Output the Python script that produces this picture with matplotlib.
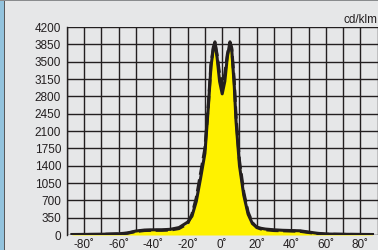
import matplotlib
matplotlib.use("Agg")
import matplotlib.pyplot as plt
from matplotlib.patches import Rectangle
import numpy as np

plt.rcParams['font.family'] = ['Liberation Sans', 'DejaVu Sans']

# Data
angles_a = [-87, -80, -70, -60, -55, -50, -45, -40, -35, -30, -25, -20, -17.5, -15, -12.5, -10, -8, -6.5, -5,
            -4.2, -3, -1.5, 0, 1.5, 3, 4.5, 5.5, 7, 8, 10, 12.5, 15, 17.5, 20, 22.5, 25, 30, 35, 40, 45,
            50, 55, 60, 70, 80, 87]
solid_vals = [10, 12, 15, 25, 40, 80, 100, 105, 105, 115, 150, 260, 380, 680, 1150, 1650, 2600, 3400, 3800,
              3900, 3600, 3100, 2850, 3100, 3600, 3900, 3750, 3000, 2300, 1400, 800, 420, 230, 160, 135, 120,
              105, 95, 90, 85, 60, 35, 20, 15, 12, 10]
dashed_vals = [8, 10, 12, 20, 35, 70, 90, 95, 95, 100, 130, 230, 420, 750, 1250, 1750, 2650, 3450, 3820,
               3880, 3650, 3250, 3000, 3250, 3650, 3880, 3780, 3100, 2400, 1500, 860, 460, 250, 150, 120, 105,
               90, 85, 80, 75, 50, 30, 16, 12, 10, 8]

x_ticks = [-80, -60, -40, -20, 0, 20, 40, 60, 80]
x_labels = ['-80˚', '-60˚', '-40˚', '-20˚', '0˚', '20˚', '40˚', '60˚', '80˚']
y_ticks = [0, 350, 700, 1050, 1400, 1750, 2100, 2450, 2800, 3150, 3500, 3850, 4200]
unit = 'cd/klm'

W, H = 378, 250
fig = plt.figure(figsize=(W / 100, H / 100), dpi=100)
fig.patch.set_facecolor('#e6e7e8')

# left blue strip and borders
fig.add_artist(Rectangle((0, 0), 4 / W, 1, transform=fig.transFigure, facecolor='#93c3dd', edgecolor='none'))
fig.add_artist(Rectangle((4 / W, 0), 1.2 / W, 1, transform=fig.transFigure, facecolor='#58595b', edgecolor='none'))
fig.add_artist(Rectangle((0, 1 - 1.2 / H), 1, 1.2 / H, transform=fig.transFigure, facecolor='#8a8c8e', edgecolor='none'))

left, right, top, bottom = 66.7, 377.7, 27, 235
ax = fig.add_axes([left / W, 1 - bottom / H, (right - left) / W, (bottom - top) / H])
ax.set_facecolor('#e6e7e8')
ax.set_xlim(-90, 90)
ax.set_ylim(0, 4200)

ax.set_xticks(np.arange(-90, 91, 10), minor=False)
ax.set_yticks(y_ticks)
ax.grid(True, color='#231f20', linewidth=1.0)
ax.set_axisbelow(True)

ax.set_xticks(x_ticks)
ax.set_xticks(np.arange(-90, 91, 10), minor=True)
ax.grid(True, which='minor', axis='x', color='#231f20', linewidth=1.0)
ax.set_xticklabels(x_labels, fontsize=8.5, color='#231f20')
ax.set_yticklabels([str(v) for v in y_ticks], fontsize=8.5, color='#231f20')
ax.tick_params(axis='both', which='both', length=0)
ax.tick_params(axis='x', pad=3)
ax.tick_params(axis='y', pad=4)
for s in ax.spines.values():
    s.set_visible(False)
ax.spines['left'].set_visible(True)
ax.spines['left'].set_color('#231f20')
ax.spines['left'].set_linewidth(1.0)

ax.fill_between(angles_a, dashed_vals, 0, color='#fff200', zorder=3, linewidth=0)
ax.plot(angles_a, solid_vals, color='#231f20', linewidth=2.2, zorder=4, solid_joinstyle='round')
ax.plot(angles_a, dashed_vals, color='#231f20', linewidth=2.2, zorder=4, linestyle=(0, (4, 1.5)))

fig.text(1.0, 1 - 23 / H, unit, ha='right', va='baseline', fontsize=8.5, color='#231f20')

fig.savefig('out.png', dpi=100, facecolor=fig.get_facecolor())
